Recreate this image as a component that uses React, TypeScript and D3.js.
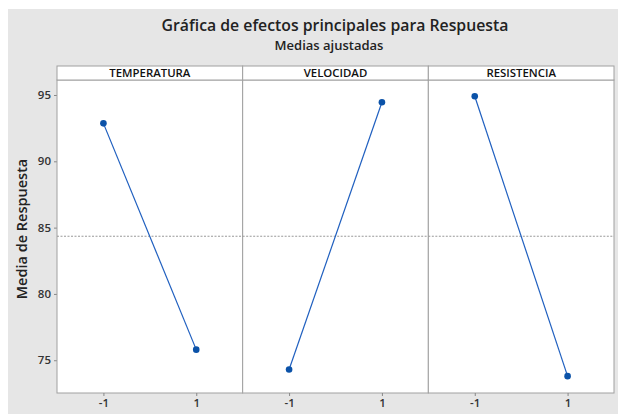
import React, { useEffect, useRef } from 'react';
import * as d3 from 'd3';

const factors = ['TEMPERATURA', 'VELOCIDAD', 'RESISTENCIA'];
const levels = ['-1', '1'];
const temperatura = [92.86, 75.8];
const velocidad = [74.3, 94.45];
const resistencia = [94.9, 73.8];
const grandMean = 84.35;
const yTicks = [75, 80, 85, 90, 95];

const W = 618;
const H = 414;

export default function App() {
  const svgRef = useRef<SVGSVGElement>(null);

  useEffect(() => {
    if (!svgRef.current) return;
    const svg = d3.select(svgRef.current);
    svg.selectAll('*').remove();

    const font = '"Open Sans", "Noto Sans", sans-serif';
    const margin = { top: 80, left: 57, right: 4, bottom: 21 };
    const stripH = 14;
    const innerW = W - margin.left - margin.right;
    const innerH = H - margin.top - margin.bottom;
    const series = [temperatura, velocidad, resistencia];

    // background
    svg.append('rect').attr('x', 8).attr('y', 9).attr('width', W - 8).attr('height', H - 9).attr('fill', '#e6e6e6');

    // Titles
    svg.append('text')
      .attr('x', 335).attr('y', 31)
      .attr('text-anchor', 'middle')
      .attr('font-family', font).attr('font-size', 15.8).attr('font-weight', 600)
      .attr('fill', '#222')
      .text('Gráfica de efectos principales para Respuesta');
    svg.append('text')
      .attr('x', 329).attr('y', 50)
      .attr('text-anchor', 'middle')
      .attr('font-family', font).attr('font-size', 13).attr('font-weight', 600)
      .attr('fill', '#222')
      .text('Medias ajustadas');

    const panelScale = d3.scaleBand<string>().domain(factors).range([margin.left, margin.left + innerW]);
    const y = d3.scaleLinear().domain([72.53, 96.13]).range([margin.top + innerH, margin.top]);

    // y axis
    const yAxis = svg.append('g')
      .attr('transform', `translate(${margin.left},0)`)
      .call(d3.axisLeft(y).tickValues(yTicks).tickSize(3).tickPadding(3).tickFormat(d3.format('d')));
    yAxis.select('.domain').remove();
    yAxis.selectAll('line').attr('stroke', '#888');
    yAxis.selectAll('text').attr('font-family', font).attr('font-size', 11.5).attr('font-weight', 600).attr('fill', '#333');

    svg.append('text')
      .attr('transform', `translate(27,${229}) rotate(-90)`)
      .attr('text-anchor', 'middle')
      .attr('font-family', font).attr('font-size', 14.5).attr('font-weight', 600)
      .attr('fill', '#222')
      .text('Media de Respuesta');

    factors.forEach((f, i) => {
      const x0 = panelScale(f)!;
      const pw = panelScale.bandwidth();
      const x = d3.scalePoint<string>().domain(levels).range([x0, x0 + pw]).padding(0.5);
      const g = svg.append('g');

      g.append('rect')
        .attr('x', x0).attr('y', margin.top).attr('width', pw).attr('height', innerH)
        .attr('fill', '#fff').attr('stroke', '#a0a0a0').attr('stroke-width', 1);
      g.append('rect')
        .attr('x', x0).attr('y', margin.top - stripH).attr('width', pw).attr('height', stripH)
        .attr('fill', '#fff').attr('stroke', '#a0a0a0').attr('stroke-width', 1);
      g.append('text')
        .attr('x', x0 + pw / 2).attr('y', margin.top - 3)
        .attr('text-anchor', 'middle')
        .attr('font-family', font).attr('font-size', 11.4).attr('font-weight', 600)
        .attr('fill', '#111')
        .text(f);

      // reference line at the overall mean
      g.append('line')
        .attr('x1', x0).attr('x2', x0 + pw)
        .attr('y1', y(grandMean)).attr('y2', y(grandMean))
        .attr('stroke', '#999').attr('stroke-width', 1).attr('stroke-dasharray', '2,1.5');

      const data = levels.map((l, j) => ({ l, v: series[i][j] }));
      const line = d3.line<{ l: string; v: number }>().x(d => x(d.l)!).y(d => y(d.v));
      g.append('path').datum(data)
        .attr('d', line).attr('fill', 'none').attr('stroke', '#1f5fbf').attr('stroke-width', 1.2);
      g.selectAll('circle.pt').data(data).enter().append('circle')
        .attr('cx', d => x(d.l)!).attr('cy', d => y(d.v)).attr('r', 3.3)
        .attr('fill', '#0b52a8');

      const xAxis = g.append('g')
        .attr('transform', `translate(0,${margin.top + innerH})`)
        .call(d3.axisBottom(x).tickSize(3).tickPadding(3));
      xAxis.select('.domain').remove();
      xAxis.selectAll('line').attr('stroke', '#888');
      xAxis.selectAll('text').attr('font-family', font).attr('font-size', 11.5).attr('font-weight', 600).attr('fill', '#333');
    });
  }, []);

  return (
    <svg
      ref={svgRef}
      width={W}
      height={H}
      style={{ position: 'absolute', left: 0, top: 0, background: '#fff' }}
    />
  );
}
